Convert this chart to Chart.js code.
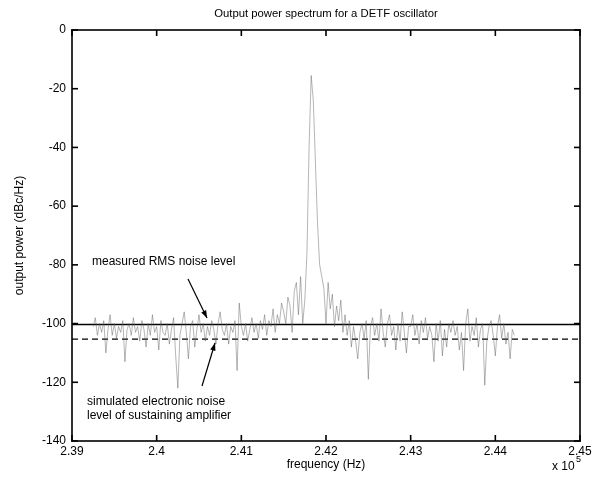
<!DOCTYPE html>
<html><head><meta charset="utf-8">
<script src="https://cdn.jsdelivr.net/npm/chart.js@4"></script>
<style>html,body{margin:0;padding:0;background:#fff}canvas{display:block}</style>
</head><body>
<canvas id="c" width="598" height="482"></canvas>
<script>
const chartTitle = "Output power spectrum for a DETF oscillator";
const xTitle = "frequency (Hz)";
const yTitle = "output power (dBc/Hz)";
const xTickValues = [239000, 240000, 241000, 242000, 243000, 244000, 245000];
const yTickValues = [0, -20, -40, -60, -80, -100, -120, -140];
const measuredRmsLevel = -100.3;
const simulatedNoiseLevel = -105.3;
const freqHz = [
239250,239275,239300,239325,239350,239375,239400,239425,239450,239475,
239500,239525,239550,239575,239600,239625,239650,239675,239700,239725,
239750,239775,239800,239825,239850,239875,239900,239925,239950,239975,
240000,240025,240050,240075,240100,240125,240150,240175,240200,240225,
240250,240275,240300,240325,240350,240375,240400,240425,240450,240475,
240500,240525,240550,240575,240600,240625,240650,240675,240700,240725,
240750,240775,240800,240825,240850,240875,240900,240925,240950,240975,
241000,241025,241050,241075,241100,241125,241150,241175,241200,241225,
241250,241275,241300,241325,241350,241375,241400,241425,241450,241475,
241500,241525,241550,241575,241600,241625,241650,241675,241700,241725,
241750,241775,241800,241825,241850,241875,241900,241925,241950,241975,
242000,242025,242050,242075,242100,242125,242150,242175,242200,242225,
242250,242275,242300,242325,242350,242375,242400,242425,242450,242475,
242500,242525,242550,242575,242600,242625,242650,242675,242700,242725,
242750,242775,242800,242825,242850,242875,242900,242925,242950,242975,
243000,243025,243050,243075,243100,243125,243150,243175,243200,243225,
243250,243275,243300,243325,243350,243375,243400,243425,243450,243475,
243500,243525,243550,243575,243600,243625,243650,243675,243700,243725,
243750,243775,243800,243825,243850,243875,243900,243925,243950,243975,
244000,244025,244050,244075,244100,244125,244150,244175,244200,244225];
const powerDbc = [
-101,-98,-104,-100,-103,-99,-110,-102,-97,-104,
-100,-105,-101,-103,-99,-113,-102,-100,-104,-98,
-103,-101,-106,-99,-102,-108,-100,-104,-97,-103,
-101,-109,-99,-103,-104,-100,-107,-102,-98,-111,
-122,-104,-100,-96,-103,-112,-101,-99,-108,-102,
-97,-103,-100,-106,-101,-104,-99,-102,-107,-100,
-96,-102,-104,-100,-107,-101,-103,-99,-116,-93,
-101,-104,-100,-106,-102,-98,-103,-100,-105,-99,
-102,-97,-104,-99,-101,-95,-103,-97,-100,-93,
-96,-100,-91,-94,-103,-89,-86,-97,-84,-100,
-92,-76,-40,-15.5,-24,-45,-66,-80,-84,-88,
-100,-86,-95,-90,-101,-94,-99,-92,-103,-97,
-104,-99,-108,-101,-106,-112,-103,-100,-105,-99,
-119,-101,-98,-104,-100,-106,-95,-103,-108,-100,
-97,-104,-101,-109,-100,-106,-96,-103,-110,-101,
-101,-97,-104,-100,-107,-99,-103,-98,-105,-101,
-104,-113,-100,-106,-99,-111,-102,-108,-100,-103,
-99,-104,-101,-109,-103,-116,-100,-95,-106,-101,
-104,-98,-108,-102,-100,-121,-106,-101,-99,-104,
-111,-101,-97,-105,-100,-107,-103,-112,-102,-104];
const annot1 = ["measured RMS noise level"];
const annot2 = ["simulated electronic noise", "level of sustaining amplifier"];

const FONT = "Liberation Sans, Arial, Helvetica, sans-serif";

function arrow(ctx, x1, y1, x2, y2) {
  ctx.beginPath(); ctx.moveTo(x1, y1); ctx.lineTo(x2, y2); ctx.stroke();
  const a = Math.atan2(y2 - y1, x2 - x1), L = 8, w = 0.35;
  ctx.beginPath();
  ctx.moveTo(x2, y2);
  ctx.lineTo(x2 - L * Math.cos(a - w), y2 - L * Math.sin(a - w));
  ctx.lineTo(x2 - L * Math.cos(a + w), y2 - L * Math.sin(a + w));
  ctx.closePath(); ctx.fill();
}

const decor = {
  id: 'decor',
  afterDraw(chart) {
    const ctx = chart.ctx, xs = chart.scales.x, ys = chart.scales.y;
    const L = xs.getPixelForValue(239000);
    const R = xs.getPixelForValue(245000);
    const T = ys.getPixelForValue(0);
    const B = ys.getPixelForValue(-140);
    ctx.save();
    ctx.setLineDash([]);
    ctx.fillStyle = '#000'; ctx.strokeStyle = '#000';
    const w = 1.6;
    // frame
    ctx.fillRect(L - w / 2, T - w / 2, R - L + w, w);
    ctx.fillRect(L - w / 2, B - w / 2, R - L + w, w);
    ctx.fillRect(L - w / 2, T - w / 2, w, B - T + w);
    ctx.fillRect(R - w / 2, T - w / 2, w, B - T + w);
    // inward ticks
    xTickValues.forEach(v => {
      const px = xs.getPixelForValue(v);
      ctx.fillRect(px - w / 2, B - 6, w, 6);
      ctx.fillRect(px - w / 2, T, w, 6);
    });
    yTickValues.forEach(v => {
      const py = ys.getPixelForValue(v);
      ctx.fillRect(L, py - w / 2, 6, w);
      ctx.fillRect(R - 6, py - w / 2, 6, w);
    });
    // titles
    ctx.font = "11.3px " + FONT; ctx.textAlign = 'center'; ctx.textBaseline = 'middle';
    ctx.fillText(chartTitle, (L + R) / 2, 14);
    ctx.font = "12px " + FONT;
    ctx.fillText(xTitle, (L + R) / 2, 465);
    ctx.save();
    ctx.translate(20, (T + B) / 2); ctx.rotate(-Math.PI / 2);
    ctx.fillText(yTitle, 0, 0);
    ctx.restore();
    ctx.textAlign = 'left';
    ctx.fillText("x 10", 552, 467);
    ctx.font = "9px " + FONT;
    ctx.fillText("5", 576, 460);
    // annotations
    ctx.font = "12px " + FONT;
    ctx.fillText(annot1[0], 92, 262);
    ctx.fillText(annot2[0], 87, 402);
    ctx.fillText(annot2[1], 87, 416);
    ctx.lineWidth = 1.2;
    arrow(ctx, 188, 279, 207, 318);
    arrow(ctx, 202, 386, 215, 343);
    ctx.restore();
  }
};

new Chart(document.getElementById('c'), {
  type: 'line',
  data: {
    datasets: [
      { data: freqHz.map((f, i) => ({x: f, y: powerDbc[i]})),
        borderColor: 'rgba(90,90,90,0.45)', borderWidth: 1, pointRadius: 0, tension: 0 },
      { data: [{x: 239000, y: measuredRmsLevel}, {x: 245000, y: measuredRmsLevel}],
        borderColor: '#000', borderWidth: 1.6, pointRadius: 0 },
      { data: [{x: 239000, y: simulatedNoiseLevel}, {x: 245000, y: simulatedNoiseLevel}],
        borderColor: '#000', borderWidth: 1.3, borderDash: [6, 4], pointRadius: 0 }
    ]
  },
  options: {
    responsive: false, animation: false, devicePixelRatio: 1,
    layout: { padding: { left: 0, right: 18, top: 30, bottom: 0 } },
    plugins: { legend: { display: false }, tooltip: { enabled: false } },
    scales: {
      x: {
        type: 'linear', min: 239000, max: 245000,
        afterFit: s => { s.height = 41; },
        afterBuildTicks: s => { s.ticks = xTickValues.map(v => ({value: v})); },
        grid: { display: false, drawTicks: false },
        border: { display: false },
        ticks: { padding: 3, color: '#000', font: { family: FONT, size: 12 },
                 maxRotation: 0, autoSkip: false,
                 callback: v => String(+(v / 1e5).toFixed(4)) }
      },
      y: {
        min: -140, max: 0,
        afterFit: s => { s.width = 72; },
        afterBuildTicks: s => { s.ticks = yTickValues.map(v => ({value: v})); },
        grid: { display: false, drawTicks: false },
        border: { display: false },
        ticks: { padding: 6, color: '#000', font: { family: FONT, size: 12 } }
      }
    }
  },
  plugins: [decor]
});
</script>
</body></html>
